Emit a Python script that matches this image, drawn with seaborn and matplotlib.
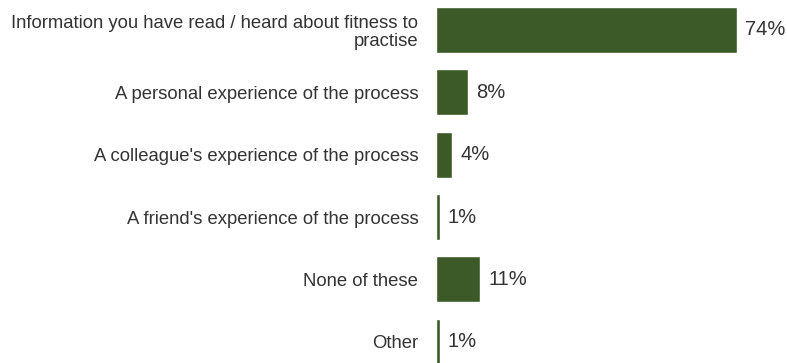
import matplotlib
matplotlib.use("Agg")
import matplotlib.pyplot as plt
import seaborn as sns
import pandas as pd

categories = [
    "Information you have read / heard about fitness to\npractise",
    "A personal experience of the process",
    "A colleague's experience of the process",
    "A friend's experience of the process",
    "None of these",
    "Other",
]
values = [74, 8, 4, 1, 11, 1]
value_labels = ["74%", "8%", "4%", "1%", "11%", "1%"]

df = pd.DataFrame({"category": categories, "value": values})

sns.set_theme(style="white")
plt.rcParams["font.family"] = ["Liberation Sans", "DejaVu Sans"]

fig = plt.figure(figsize=(7.87, 3.63), dpi=100)
ax = fig.add_axes([0.5536, -0.0275, 0.44, 1.031])

sns.barplot(data=df, y="category", x="value", orient="h", color="#3b5a28",
            saturation=1, width=0.74, ax=ax)

ax.set_xlim(0, 85)
ax.set_ylim(5.5, -0.5)
ax.set_xlabel("")
ax.set_ylabel("")
ax.set_xticks([])
for s in ax.spines.values():
    s.set_visible(False)
ax.tick_params(axis="y", length=0, pad=12.5, labelsize=13.3, labelcolor="#333333")
for lbl in ax.get_yticklabels():
    lbl.set_horizontalalignment("right")
    lbl.set_multialignment("right")
    lbl.set_linespacing(1.05)

for i, (v, t) in enumerate(zip(values, value_labels)):
    ax.text(v + 2.0, i, t, va="center", ha="left", fontsize=14.5, color="#333333")

fig.savefig("out.png", dpi=100)
